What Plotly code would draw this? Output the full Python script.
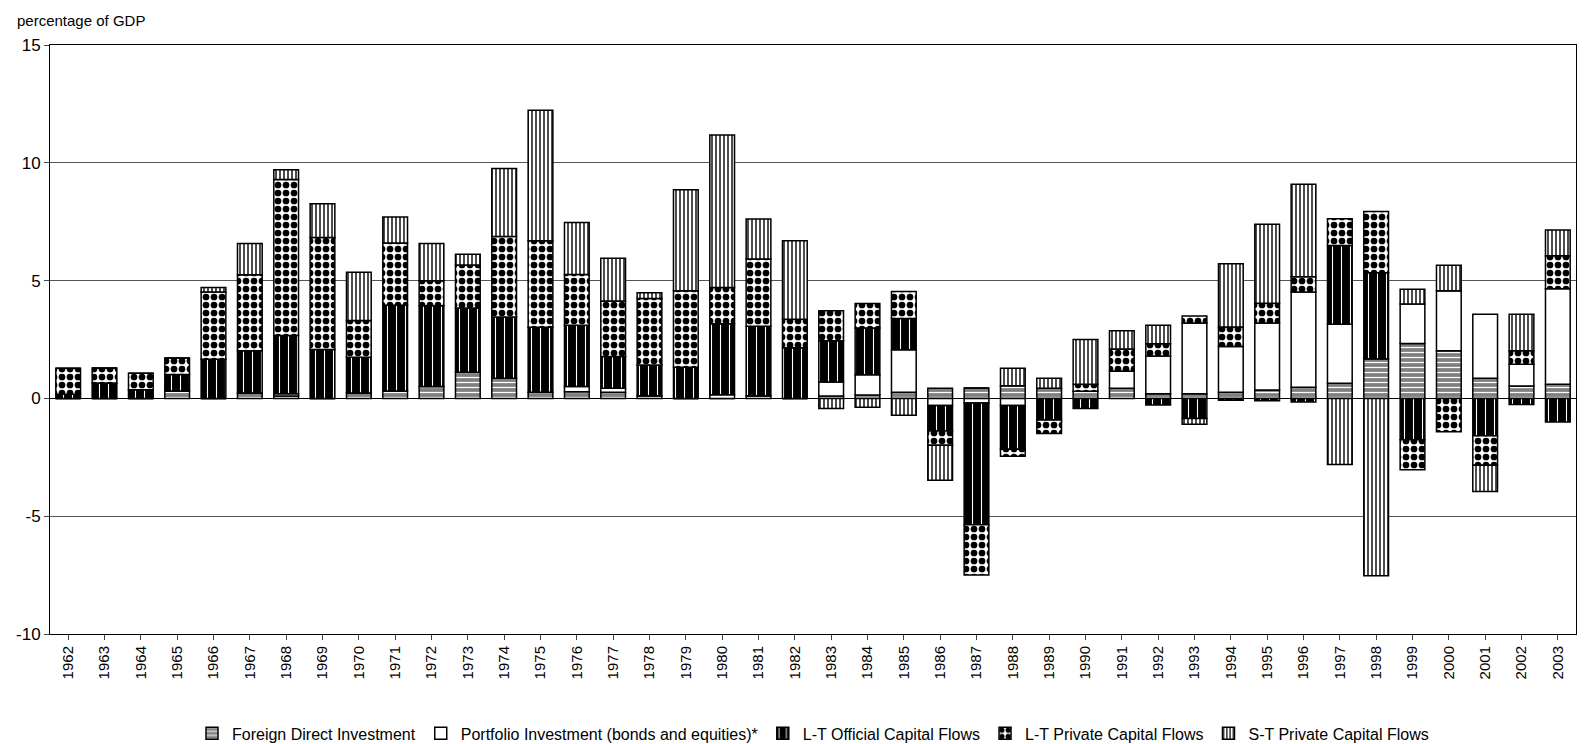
import plotly.graph_objects as go

years = [str(y) for y in range(1962, 2004)]

fdi = [0, 0, 0, 0.31, 0, 0.23, 0.1, 0, 0.23, 0.31, 0.5, 1.11, 0.85, 0.26,
       0.28, 0.26, 0.11, 0, 0, 0.11, 0, 0.1, 0.14, 0.26, 0.43, 0.44, 0.54, 0.43,
       0.3, 0.43, 0.2, 0.2, 0.26, 0.36, 0.47, 0.64, 1.68, 2.33, 2.02, 0.85, 0.53, 0.6]
portfolio = [0, 0, 0, 0, 0, 0, 0.1, 0, 0, 0, 0, 0, 0, 0,
             0.22, 0.17, 0, 0, 0.15, 0, 0, 0.6, 0.86, 1.8, -0.3, -0.2, -0.3, 0,
             0, 0.73, 1.6, 3.0, 1.94, 2.84, 4.05, 2.51, 0, 1.68, 2.55, 2.72, 0.92, 4.05]
lt_official = [0.18, 0.65, 0.37, 0.7, 1.66, 1.79, 2.47, 2.08, 1.52, 3.64, 3.43, 2.73, 2.61, 2.76,
               2.6, 1.35, 1.31, 1.32, 3.02, 2.95, 2.15, 1.75, 1.99, 1.33, -1.08, -5.16, -1.86, -0.92,
               -0.43, 0, -0.28, -0.85, -0.08, -0.1, -0.15, 3.34, 3.65, -1.75, 0, -1.59, -0.26, -1.0]
lt_private = [1.1, 0.64, 0.7, 0.71, 2.86, 3.23, 6.62, 4.75, 1.56, 2.65, 1.06, 1.82, 3.41, 3.67,
              2.16, 2.35, 2.82, 3.25, 1.54, 2.86, 1.21, 1.27, 1.04, 1.15, -0.61, -2.14, -0.3, -0.57,
              0.3, 0.94, 0.52, 0.3, 0.83, 0.84, 0.64, 1.14, 2.6, -1.28, -1.42, -1.25, 0.57, 1.4]
st_private = [0, 0, 0, 0, 0.19, 1.32, 0.41, 1.43, 2.04, 1.1, 1.58, 0.46, 2.89, 5.54,
              2.21, 1.82, 0.24, 4.29, 6.47, 1.69, 3.33, -0.43, -0.38, -0.71, -1.48, 0, 0.74, 0.43,
              1.9, 0.77, 0.79, -0.25, 2.69, 3.35, 3.93, -2.81, -7.53, 0.62, 1.08, -1.11, 1.55, 1.1]

y_ticks = [-10, -5, 0, 5, 10, 15]
y_labels = ["-10", "-5", "0", "5", "10", "15"]

series = [
    ("Foreign Direct Investment", fdi, dict(shape="-", bgcolor="#808080", fgcolor="white", size=5, solidity=0.25)),
    ("Portfolio Investment (bonds and equities)*", portfolio, dict(shape="", bgcolor="white")),
    ("L-T Official Capital Flows", lt_official, dict(shape="|", bgcolor="black", fgcolor="white", size=9, solidity=0.12)),
    ("L-T Private Capital Flows", lt_private, dict(shape=".", bgcolor="white", fgcolor="black", size=8, solidity=0.55)),
    ("S-T Private Capital Flows", st_private, dict(shape="|", bgcolor="white", fgcolor="black", size=4, solidity=0.35)),
]

fig = go.Figure()
for name, vals, pat in series:
    fig.add_trace(go.Bar(
        x=years, y=vals, name=name,
        marker=dict(color="white", line=dict(color="black", width=1.5),
                    pattern=dict(fillmode="replace", **pat)),
    ))

fig.update_layout(
    width=1591, height=744,
    barmode="relative", bargap=0.32,
    plot_bgcolor="white", paper_bgcolor="white",
    font=dict(family="Liberation Sans, Arial", size=15, color="black"),
    margin=dict(l=42, r=23, t=37, b=118, autoexpand=False),
    showlegend=True,
    legend=dict(orientation="h", x=0.5, xanchor="center", y=-0.14, yanchor="top",
                font=dict(size=16), itemwidth=30, traceorder="normal"),
    annotations=[dict(text="percentage of GDP", x=0, xref="paper", xanchor="left",
                      xshift=-35, y=1, yref="paper", yanchor="bottom", yshift=14,
                      showarrow=False, font=dict(size=15))],
)
fig.update_xaxes(tickangle=-90, showline=True, linecolor="black", mirror=True,
                 ticks="outside", ticklen=5, tickfont=dict(size=15), automargin=False)
fig.update_yaxes(range=[-10, 15], tickvals=y_ticks, ticktext=y_labels, showline=True,
                 linecolor="black", mirror=True, automargin=False,
                 gridcolor="#555", gridwidth=1, zeroline=True, zerolinecolor="black",
                 zerolinewidth=1, ticks="outside", tickfont=dict(size=17))

fig.write_html("out.html")
